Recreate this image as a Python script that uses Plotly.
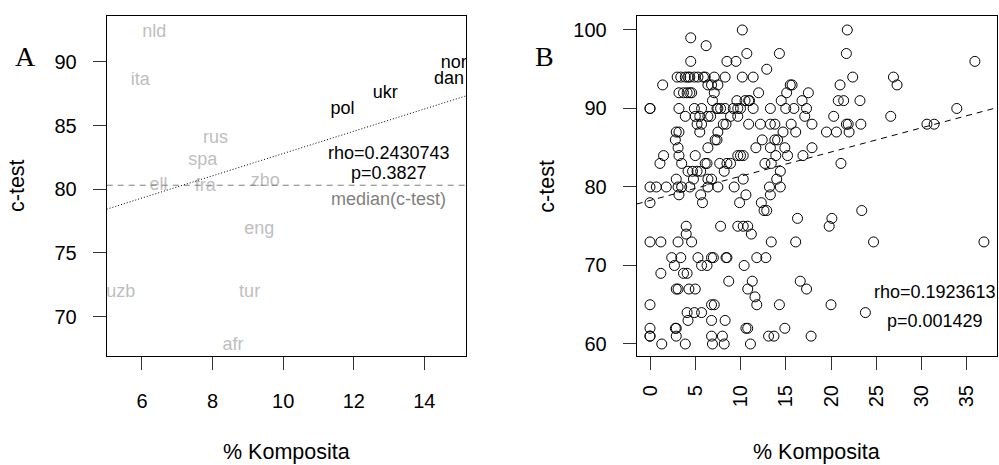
import plotly.graph_objects as go

# ---------------- Panel A data ----------------
lang = ["nld", "ita", "rus", "spa", "ell", "fra", "zho", "eng", "uzb", "tur", "afr",
        "pol", "ukr", "nor", "dan"]
lang_komp = [6.35, 5.95, 8.08, 7.72, 6.47, 7.79, 9.49, 9.32, 5.40, 9.05, 8.58,
             11.68, 12.89, 14.83, 14.70]
lang_ctest = [92.3, 88.5, 83.95, 82.25, 80.26, 80.2, 80.6, 76.8, 71.9, 71.88, 67.7,
              86.23, 87.54, 89.9, 88.59]
lang_black = [False] * 11 + [True] * 4
median_ctest = 80.31
a_intercept, a_slope = 74.06, 0.874
a_rho_text = "rho=0.2430743"
a_p_text = "p=0.3827"

# ---------------- Panel B data (x = % Komposita, y = c-test) ----------------
b_rows = {
    100: [10.2, 21.8],
    99: [4.5],
    98: [6.2],
    97: [10.7, 14.3, 21.7],
    96: [4.5, 8.5, 9.5, 35.9],
    95: [12.9],
    94: [3.0, 3.4, 3.9, 4.2, 4.4, 4.9, 5.3, 5.9, 6.1, 7.1, 8.3, 10.2, 11.4, 22.4, 26.9],
    93: [1.4, 6.4, 6.8, 7.5, 15.5, 15.7, 21.0, 27.3],
    92: [3.2, 3.7, 4.1, 4.4, 4.6, 7.1, 12.0, 15.1, 17.5],
    91: [6.9, 9.6, 10.5, 10.9, 11.0, 14.5, 16.8, 20.8, 21.4, 23.2],
    90: [0.0, 0.0, 3.2, 4.9, 5.7, 7.4, 7.5, 7.8, 8.3, 9.2, 9.7, 10.0, 11.4, 13.3, 15.0,
         15.9, 17.3, 33.9],
    89: [3.9, 5.0, 5.5, 6.4, 6.7, 8.9, 9.7, 17.1, 20.3, 26.6],
    88: [5.2, 5.7, 8.1, 8.4, 10.9, 12.2, 13.3, 13.8, 15.6, 17.9, 21.7, 21.9, 23.3,
         30.6, 31.4],
    87: [2.9, 3.2, 5.5, 7.5, 14.7, 16.1, 19.5, 20.6, 22.0],
    86: [2.8, 7.2, 7.4, 12.4, 13.8, 14.1],
    85: [3.1, 6.4, 11.7, 13.3, 14.9, 17.9],
    84: [1.5, 3.2, 5.0, 9.7, 10.0, 10.3, 13.9, 15.2, 16.9],
    83: [1.1, 3.5, 6.1, 6.3, 7.7, 8.5, 8.9, 12.7, 13.4, 21.1],
    82: [4.2, 4.7, 5.2, 5.6, 8.2, 14.4],
    81: [2.9, 4.8, 6.4, 6.8, 10.3, 14.0],
    80: [0.0, 0.7, 1.8, 3.1, 3.5, 4.4, 6.4, 7.5, 9.3, 13.2, 14.4],
    79: [3.2, 5.6, 10.6, 13.3],
    78: [0.0, 5.8, 9.9, 12.3],
    77: [12.6, 12.9, 23.4],
    76: [16.3, 20.1],
    75: [4.0, 7.8, 9.7, 10.3, 10.8, 19.8],
    74: [4.0, 11.2],
    73: [0.0, 1.2, 3.1, 4.6, 13.4, 16.1, 24.7, 36.9],
    71: [2.4, 3.4, 5.3, 6.8, 7.0, 8.4, 8.5, 11.8, 12.8],
    70: [2.7, 5.7, 6.3, 10.4],
    69: [1.2, 3.7, 4.1],
    68: [8.7, 11.3, 16.6],
    67: [2.9, 3.1, 4.3, 5.0, 10.8, 17.3],
    66: [11.6],
    65: [0.0, 6.8, 7.1, 11.8, 14.3, 20.0],
    64: [4.1, 4.9, 5.7, 23.8],
    63: [4.2, 6.8, 8.3],
    62: [0.0, 2.8, 2.9, 10.6, 10.8, 14.9],
    61: [0.0, 0.0, 2.9, 6.8, 8.0, 13.1, 13.7, 17.8],
    60: [1.3, 3.9, 6.9, 8.2, 11.1],
}
b_komp = [x for y, xs in b_rows.items() for x in xs]
b_ctest = [y for y, xs in b_rows.items() for _ in xs]
b_intercept, b_slope = 78.28, 0.3085
b_rho_text = "rho=0.1923613"
b_p_text = "p=0.001429"

# ---------------- geometry ----------------
W, H = 999, 465
A_X = [5.0, 15.18]
A_Y = [66.9, 93.6]
B_X = [-1.47, 38.31]
B_Y = [58.47, 101.78]

def px(xp):
    return xp / W

def py(yp):
    return 1 - yp / H

SANS = "Liberation Sans, Arial, Helvetica, sans-serif"
SERIF = "Liberation Serif, Times New Roman, serif"
GRAY_LIGHT = "#BEBEBE"
GRAY_MED = "#7F7F7F"

fig = go.Figure()

# Panel A: labels
fig.add_trace(go.Scatter(
    x=lang_komp, y=lang_ctest, text=lang, mode="text",
    textposition="middle center",
    textfont=dict(family=SANS, size=18,
                  color=["#000000" if b else GRAY_LIGHT for b in lang_black]),
    cliponaxis=True, xaxis="x", yaxis="y", showlegend=False, hoverinfo="skip"))
# median line
fig.add_trace(go.Scatter(
    x=A_X, y=[median_ctest, median_ctest], mode="lines",
    line=dict(color=GRAY_MED, width=1, dash="6px,5px"),
    xaxis="x", yaxis="y", showlegend=False, hoverinfo="skip"))
# regression line A
fig.add_trace(go.Scatter(
    x=A_X, y=[a_intercept + a_slope * v for v in A_X], mode="lines",
    line=dict(color="black", width=1, dash="1px,2px"),
    xaxis="x", yaxis="y", showlegend=False, hoverinfo="skip"))

# Panel B: points
fig.add_trace(go.Scatter(
    x=b_komp, y=b_ctest, mode="markers",
    marker=dict(symbol="circle-open", size=10, color="black", line=dict(width=1, color="black")),
    cliponaxis=False, xaxis="x2", yaxis="y2", showlegend=False, hoverinfo="skip"))
fig.add_trace(go.Scatter(
    x=B_X, y=[b_intercept + b_slope * v for v in B_X], mode="lines",
    line=dict(color="black", width=1, dash="6px,5px"),
    xaxis="x2", yaxis="y2", showlegend=False, hoverinfo="skip"))

axis_common = dict(showline=True, mirror=True, linecolor="black", linewidth=1,
                   ticks="outside", ticklen=13, tickwidth=1, tickcolor="#333333",
                   showgrid=False, zeroline=False,
                   tickfont=dict(family=SANS, size=20, color="black"))

fig.update_layout(
    width=W, height=H,
    margin=dict(l=0, r=0, t=0, b=0, autoexpand=False),
    plot_bgcolor="white", paper_bgcolor="white",
    xaxis=dict(domain=[px(106.7), px(466)], range=A_X, tickvals=[6, 8, 10, 12, 14],
               anchor="y", ticklabelstandoff=14, **axis_common),
    yaxis=dict(domain=[py(356), py(16)], range=A_Y, tickvals=[70, 75, 80, 85, 90],
               anchor="x", ticklabelstandoff=12, **axis_common),
    xaxis2=dict(domain=[px(636.7), px(996.7)], range=B_X, tickvals=[0, 5, 10, 15, 20, 25, 30, 35],
                anchor="y2", tickangle=-90, ticklabelstandoff=7, **axis_common),
    yaxis2=dict(domain=[py(356), py(16)], range=B_Y, tickvals=[60, 70, 80, 90, 100],
                anchor="x2", ticklabelstandoff=12, **axis_common),
)

def note(x, y, text, xref, yref, size=18, color="black", family=SANS, angle=0):
    return dict(x=x, y=y, xref=xref, yref=yref, text=text, showarrow=False,
                xanchor="center", yanchor="middle", textangle=angle,
                font=dict(family=family, size=size, color=color))

ann = []
# Panel A annotations
ann.append(note(12.99, 82.87, a_rho_text, "x", "y"))
ann.append(note(12.99, 81.3, a_p_text, "x", "y"))
ann.append(note(12.98, 79.2, "median(c-test)", "x", "y", color=GRAY_MED))
# Panel B annotations
ann.append(note(31.5, 66.6, b_rho_text, "x2", "y2"))
ann.append(note(31.5, 62.93, b_p_text, "x2", "y2"))
# axis titles
for cx in (17, 546.7):
    ann.append(note(px(cx), py(186), "c-test", "paper", "paper", size=21.5, angle=-90))
for cx in (286.3, 816.7):
    ann.append(note(px(cx), py(451.5), "% Komposita", "paper", "paper", size=21.5))
# panel letters
ann.append(note(px(25), py(56.5), "A", "paper", "paper", size=28, family=SERIF))
ann.append(note(px(544), py(56), "B", "paper", "paper", size=28, family=SERIF))
fig.update_layout(annotations=ann)

fig.write_html("out.html")
